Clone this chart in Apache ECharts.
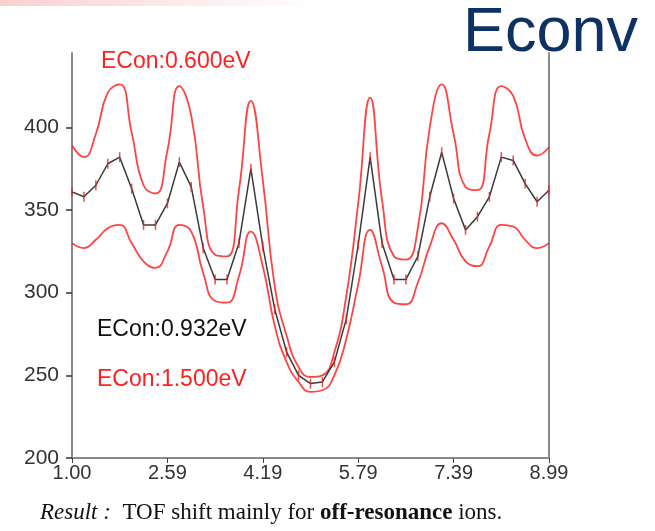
<!DOCTYPE html>
<html>
<head>
<meta charset="utf-8">
<script src="https://cdn.jsdelivr.net/npm/echarts@6/dist/echarts.min.js"></script>
<style>
html,body{margin:0;padding:0;background:#fff;}
#chart{width:655px;height:531px;}
</style>
</head>
<body>
<div id="chart"></div>
<script>
const xCategories = ['1.00','1.20','1.40','1.60','1.80','2.00','2.20','2.40','2.60','2.80',
  '3.00','3.20','3.40','3.60','3.80','4.00','4.20','4.40','4.60','4.80',
  '5.00','5.19','5.39','5.59','5.79','5.99','6.19','6.39','6.59','6.79',
  '6.99','7.19','7.39','7.59','7.79','7.99','8.19','8.39','8.59','8.79','8.99'];
const xTickLabels = ['1.00','2.59','4.19','5.79','7.39','8.99'];
const yTickValues = [200, 250, 300, 350, 400];

const econ0600 = [389, 382, 396, 421, 426, 397, 365, 360, 386, 425, 407, 352, 323, 322, 362, 416, 368, 304, 274, 255, 249,
  250, 264, 298, 354, 418, 356, 322, 320, 339, 400, 426, 396, 364, 362, 396, 425, 419, 393, 383, 388];
const econ0932 = [361, 358, 365, 378, 382, 363, 341, 341, 354, 379, 364, 327, 308, 308, 330, 375, 328, 290, 264, 250, 245,
  246, 258, 284, 329, 382, 330, 308, 308, 322, 358, 385, 357, 338, 346, 358, 382, 380, 366, 355, 362];
const econ1500 = [330, 327, 332, 339, 341, 330, 319, 315, 325, 341, 337, 312, 295, 294, 310, 337, 316, 280, 258, 246, 240,
  241, 250, 272, 305, 338, 316, 294, 293, 306, 328, 342, 332, 319, 316, 328, 341, 340, 332, 327, 330];
const errHalf = 3;

const chart = echarts.init(document.getElementById('chart'), null, {renderer: 'canvas'});
const errData = econ0932.map((v, i) => [i, v]);
const axisFont = '"Liberation Sans", Arial, sans-serif';
const serif = '"Liberation Serif", "Times New Roman", serif';

chart.setOption({
  animation: false,
  backgroundColor: '#ffffff',
  grid: {left: 72, right: 106, top: 53, bottom: 73, containLabel: false},
  xAxis: {
    type: 'category',
    data: xCategories,
    boundaryGap: false,
    axisLine: {show: true, lineStyle: {color: '#8a8a8a', width: 2}},
    axisTick: {show: true, interval: 7, length: 5, lineStyle: {color: '#444', width: 1}},
    axisLabel: {show: true, interval: 7, margin: 5, color: '#333', fontSize: 20, fontFamily: axisFont,
      formatter: (v, idx) => xTickLabels[Math.round(idx / 8)]},
    splitLine: {show: false}
  },
  yAxis: [{
    type: 'value', min: 200, max: 445, interval: 50,
    axisLine: {show: true, lineStyle: {color: '#8a8a8a', width: 2}},
    axisTick: {show: true, length: 6, customValues: yTickValues, lineStyle: {color: '#333', width: 1.5}},
    axisLabel: {show: true, margin: 13, color: '#333', fontSize: 21, fontFamily: axisFont, customValues: yTickValues},
    splitLine: {show: false}
  }, {
    type: 'value', min: 200, max: 445, position: 'right',
    axisLine: {show: true, lineStyle: {color: '#8a8a8a', width: 2}},
    axisTick: {show: false}, axisLabel: {show: false}, splitLine: {show: false}
  }],
  series: [
    {name: 'ECon:0.600eV', type: 'line', data: econ0600, smooth: 0.5, symbol: 'none',
      lineStyle: {color: 'rgba(255,20,20,0.8)', width: 1.8}},
    {name: 'ECon:1.500eV', type: 'line', data: econ1500, smooth: 0.5, symbol: 'none',
      lineStyle: {color: 'rgba(255,20,20,0.8)', width: 1.8}},
    {name: 'ECon:0.932eV', type: 'line', data: econ0932, smooth: false, symbol: 'none', z: 4,
      lineStyle: {color: '#3a3a3a', width: 1.5}},
    {name: 'err', type: 'custom', data: errData, z: 5,
      renderItem: (params, api) => {
        const x = api.value(0), y = api.value(1);
        const p1 = api.coord([x, y - errHalf]);
        const p2 = api.coord([x, y + errHalf]);
        return {type: 'line', shape: {x1: p1[0], y1: p1[1], x2: p2[0], y2: p2[1]},
          style: {stroke: 'rgba(230,30,30,0.8)', lineWidth: 1.5}};
      }}
  ],
  graphic: [
    {type: 'rect', left: 0, top: 0, shape: {width: 320, height: 6}, z: 0,
      style: {fill: new echarts.graphic.LinearGradient(0, 0, 1, 0, [
        {offset: 0, color: 'rgba(240,120,120,0.35)'}, {offset: 1, color: 'rgba(240,120,120,0)'}])}},
    {type: 'text', x: 463, y: 34, style: {text: 'Econv', fill: '#0d3263',
      font: '63px "Liberation Sans", Arial, sans-serif', verticalAlign: 'middle'}},
    {type: 'text', x: 101, y: 62, style: {text: 'ECon:0.600eV', fill: '#ff2020',
      font: '23px "Liberation Sans", Arial, sans-serif', verticalAlign: 'middle'}},
    {type: 'text', x: 97, y: 330, style: {text: 'ECon:0.932eV', fill: '#111111',
      font: '23px "Liberation Sans", Arial, sans-serif', verticalAlign: 'middle'}},
    {type: 'text', x: 97, y: 380, style: {text: 'ECon:1.500eV', fill: '#ff2020',
      font: '23px "Liberation Sans", Arial, sans-serif', verticalAlign: 'middle'}},
    {type: 'text', x: 40, y: 513, style: {
      text: '{i|Result :}{n|  TOF shift mainly for }{b|off-resonance}{n| ions.}',
      verticalAlign: 'middle',
      rich: {
        i: {fontFamily: serif, fontStyle: 'italic', fontSize: 23, fill: '#111'},
        n: {fontFamily: serif, fontSize: 23, fill: '#111'},
        b: {fontFamily: serif, fontWeight: 'bold', fontSize: 23, fill: '#111'}
      }}}
  ]
});
</script>
</body>
</html>
